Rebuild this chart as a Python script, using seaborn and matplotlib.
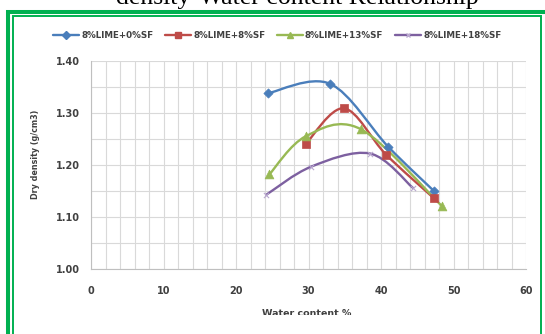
import numpy as np
import pandas as pd
import seaborn as sns
import matplotlib
matplotlib.use("Agg")
import matplotlib.pyplot as plt
from matplotlib.path import Path
from matplotlib.patches import PathPatch, Rectangle
from matplotlib.lines import Line2D
from matplotlib.transforms import Bbox, TransformedBbox

# Compaction results: dry density vs. water content for each lime / silica-fume mix
mix_labels = ["8%LIME+0%SF", "8%LIME+8%SF", "8%LIME+13%SF", "8%LIME+18%SF"]
water_0 = [24.4, 33.0, 41.0, 47.3]
density_0 = [1.338, 1.356, 1.235, 1.150]
water_8 = [29.6, 34.9, 40.7, 47.3]
density_8 = [1.240, 1.309, 1.220, 1.136]
water_13 = [24.6, 29.6, 37.2, 48.4]
density_13 = [1.182, 1.255, 1.269, 1.121]
water_18 = [24.2, 30.4, 38.5, 44.4]
density_18 = [1.143, 1.197, 1.222, 1.156]

x_ticks = [0, 10, 20, 30, 40, 50, 60]
y_ticks = [1.00, 1.10, 1.20, 1.30, 1.40]

colors = ["#4a7ebb", "#be4b48", "#98b954", "#7d60a0"]
markers = ["D", "s", "^", "x"]
marker_sizes = [22, 40, 40, 14]

frames = []
for label, w, d in zip(mix_labels,
                       [water_0, water_8, water_13, water_18],
                       [density_0, density_8, density_13, density_18]):
    frames.append(pd.DataFrame({"mix": label, "water": w, "density": d}))
df = pd.concat(frames, ignore_index=True)

sns.set_theme(style="white")
plt.rcParams["font.family"] = ["DejaVu Sans"]
TEXT_GREY = "#404040"


def smooth_path(x, y, t=1.0 / 6.0):
    """Cubic Bezier path through the points (Catmull-Rom style smoothing)."""
    pts = np.column_stack([x, y]).astype(float)
    n = len(pts)
    verts = [pts[0]]
    codes = [Path.MOVETO]
    for i in range(n - 1):
        p_prev = pts[i - 1] if i > 0 else pts[i]
        p0, p1 = pts[i], pts[i + 1]
        p_next = pts[i + 2] if i + 2 < n else pts[i + 1]
        c1 = p0 + (p1 - p_prev) * t
        c2 = p1 - (p_next - p0) * t
        verts += [c1, c2, p1]
        codes += [Path.CURVE4] * 3
    return Path(np.array(verts), codes)


W, H = 545, 334
fig = plt.figure(figsize=(W / 100, H / 100), dpi=100)
fig.patch.set_facecolor("white")
ax = fig.add_axes([91 / W, 65 / H, 435 / W, 208 / H])

for label, color, mk, ms in zip(mix_labels, colors, markers, marker_sizes):
    sub = df[df["mix"] == label]
    path = smooth_path(sub["water"].to_numpy(), sub["density"].to_numpy())
    ax.add_patch(PathPatch(path, facecolor="none", edgecolor=color,
                           lw=1.7, zorder=3, capstyle="round"))
    if mk == "x":
        sns.scatterplot(data=sub, x="water", y="density", marker=mk, s=ms,
                        color="#b9a8cf", linewidth=0.8, ax=ax, zorder=4,
                        legend=False)
    else:
        sns.scatterplot(data=sub, x="water", y="density", marker=mk, s=ms,
                        color=color, edgecolor=color, linewidth=0.5, ax=ax,
                        zorder=4, legend=False)

ax.set_xlim(0, 60)
ax.set_ylim(1.0, 1.4)
ax.set_xticks(x_ticks)
ax.set_xticks(np.arange(0, 61, 2), minor=True)
ax.set_yticks(y_ticks)
ax.set_yticks(np.arange(1.0, 1.401, 0.05), minor=True)
ax.set_xticklabels([str(v) for v in x_ticks])
ax.set_yticklabels([f"{v:.2f}" for v in y_ticks])
ax.grid(which="both", color="#d9d9d9", lw=0.8)
ax.set_axisbelow(True)
ax.tick_params(which="both", length=0)
ax.tick_params(axis="x", pad=12, labelsize=7, labelcolor=TEXT_GREY)
ax.tick_params(axis="y", pad=8, labelsize=7, labelcolor=TEXT_GREY)
for lab in ax.get_xticklabels() + ax.get_yticklabels():
    lab.set_fontweight("bold")
for side in ["top", "right"]:
    ax.spines[side].set_visible(False)
for side in ["left", "bottom"]:
    ax.spines[side].set_color("#bfbfbf")
    ax.spines[side].set_linewidth(0.8)
ax.set_xlabel("")
ax.set_ylabel("")

xlab = fig.text(307 / W, 1 - 314 / H, "Water content %", ha="center",
                va="center", fontsize=6.8, fontweight="bold", color=TEXT_GREY)
# the lower edge of the chart area trims the axis title
xlab.set_clip_box(TransformedBbox(Bbox([[0, 19 / H], [1, 1]]), fig.transFigure))
xlab.set_clip_on(True)
fig.text(36 / W, 1 - 154 / H, "Dry density (g/cm3)", ha="center", va="center",
         rotation=90, fontsize=5.8, fontweight="bold", color=TEXT_GREY)

handles = []
for color, mk in zip(colors, markers):
    if mk == "x":
        handles.append(Line2D([], [], color=color, lw=1.7, marker="x",
                              markersize=3, markeredgecolor="#b9a8cf"))
    else:
        handles.append(Line2D([], [], color=color, lw=1.7, marker=mk,
                              markersize=4 if mk == "D" else 5))
leg = fig.legend(handles, mix_labels, loc="center", ncol=4, frameon=False,
                 bbox_to_anchor=(277 / W, 1 - 36 / H), fontsize=6.3,
                 handlelength=3.0, handletextpad=0.25, columnspacing=1.3)
for txt in leg.get_texts():
    txt.set_fontweight("bold")
    txt.set_color(TEXT_GREY)

# Partially visible heading above the framed chart
fig.text(297 / W, 1 - 4 / H, "density-Water content Relationship",
         ha="center", va="baseline", fontsize=18.5,
         family=["Liberation Serif", "DejaVu Serif"], color="black")

# Double green border around the chart
green = "#00b050"
fig.add_artist(Rectangle((8 / W, -0.2), 1.2, 1.2 - 11.5 / H,
                         transform=fig.transFigure, fill=False,
                         edgecolor=green, lw=2.9))
fig.add_artist(Rectangle((13 / W, -0.2), (541 - 13) / W, 0.2 + 1 - 16 / H,
                         transform=fig.transFigure, fill=False,
                         edgecolor=green, lw=1.4))

fig.savefig("out.png", dpi=100)
